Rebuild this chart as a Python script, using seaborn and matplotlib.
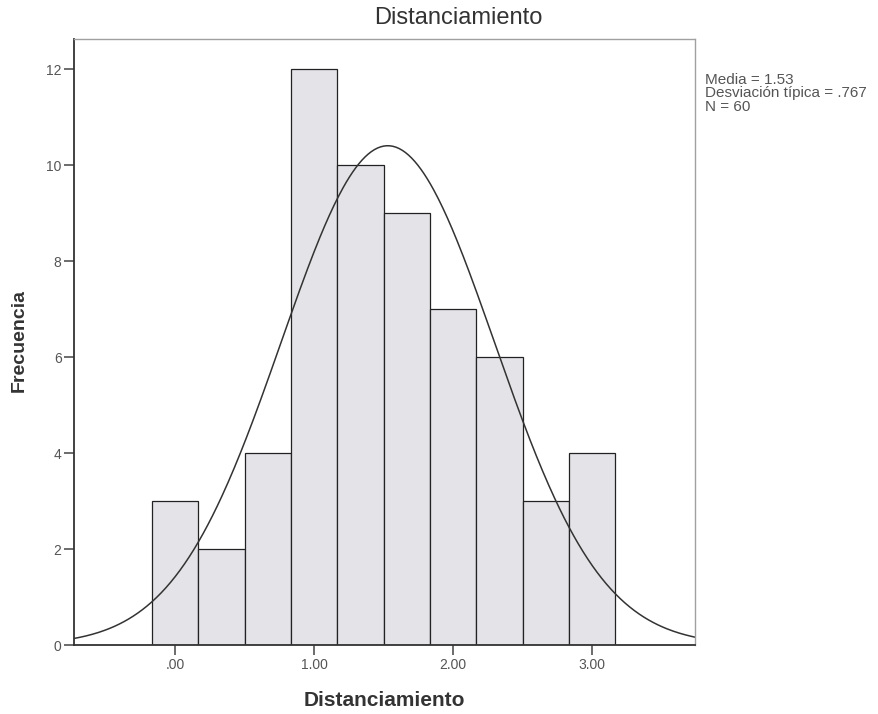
import numpy as np
import pandas as pd
import matplotlib
matplotlib.use("Agg")
import matplotlib.pyplot as plt
import seaborn as sns

# Histogram of "Distanciamiento" (bin width 1/3) with fitted normal curve
bin_centers = [0.0, 1/3, 2/3, 1.0, 4/3, 5/3, 2.0, 7/3, 8/3, 3.0]
frequencies = [3, 2, 4, 12, 10, 9, 7, 6, 3, 4]
bin_edges = [-1/6, 1/6, 0.5, 5/6, 7/6, 1.5, 11/6, 13/6, 2.5, 17/6, 19/6]
mean_value = 1.53
std_value = 0.767
n_total = 60
x_ticks = [0, 1, 2, 3]
x_tick_labels = [".00", "1.00", "2.00", "3.00"]
y_ticks = [0, 2, 4, 6, 8, 10, 12]

sns.set_theme(style="white")
plt.rcParams["font.family"] = ["Liberation Sans", "DejaVu Sans"]

df = pd.DataFrame({"Distanciamiento": bin_centers, "freq": frequencies})

fig = plt.figure(figsize=(8.79, 7.14), dpi=100)
ax = fig.add_axes([0.0842, 0.0966, 0.7065, 0.8487])

sns.histplot(data=df, x="Distanciamiento", weights="freq", bins=bin_edges,
             color="#e4e4e8", edgecolor="#222222", linewidth=0.9, alpha=1.0, ax=ax)

xmin, xmax = -0.727, 3.74
xs = np.linspace(xmin, xmax, 400)
width = 1/3
ys = n_total * width / (std_value * np.sqrt(2 * np.pi)) * np.exp(-0.5 * ((xs - mean_value) / std_value) ** 2)
sns.lineplot(x=xs, y=ys, color="#333333", linewidth=1.1, ax=ax)

ax.set_xlim(xmin, xmax)
ax.set_ylim(0, 12.625)
ax.set_xticks(x_ticks)
ax.set_xticklabels(x_tick_labels)
ax.set_yticks(y_ticks)
ax.tick_params(axis="both", which="major", labelsize=10, labelcolor="#555555",
               length=7, width=1.1, color="#444444", direction="out",
               bottom=True, left=True, pad=2)

for side in ("left", "bottom"):
    ax.spines[side].set_color("#333333")
    ax.spines[side].set_linewidth(1.3)
for side in ("top", "right"):
    ax.spines[side].set_color("#a0a0a0")
    ax.spines[side].set_linewidth(1.0)
    ax.spines[side].set_linestyle((0, (1, 1)))

ax.set_xlabel("")
ax.set_ylabel("")
fig.text(384.5 / 879, 1 - 700 / 714, "Distanciamiento", ha="center", va="center",
         fontsize=15, fontweight="bold", color="#333333")
fig.text(19 / 879, 1 - 340 / 714, "Frecuencia", ha="center", va="center", rotation=90,
         fontsize=14, fontweight="bold", color="#333333")

fig.text(458 / 879, 1 - 18 / 714, "Distanciamiento", ha="center", va="center",
         fontsize=17, color="#333333")

fig.text(705 / 879, 1 - 73 / 714,
         f"Media = {mean_value:.2f}\nDesviación típica = .767\nN = {n_total}",
         ha="left", va="top", fontsize=11, color="#555555", linespacing=0.95)

fig.savefig("out.png", dpi=100, facecolor="white")
